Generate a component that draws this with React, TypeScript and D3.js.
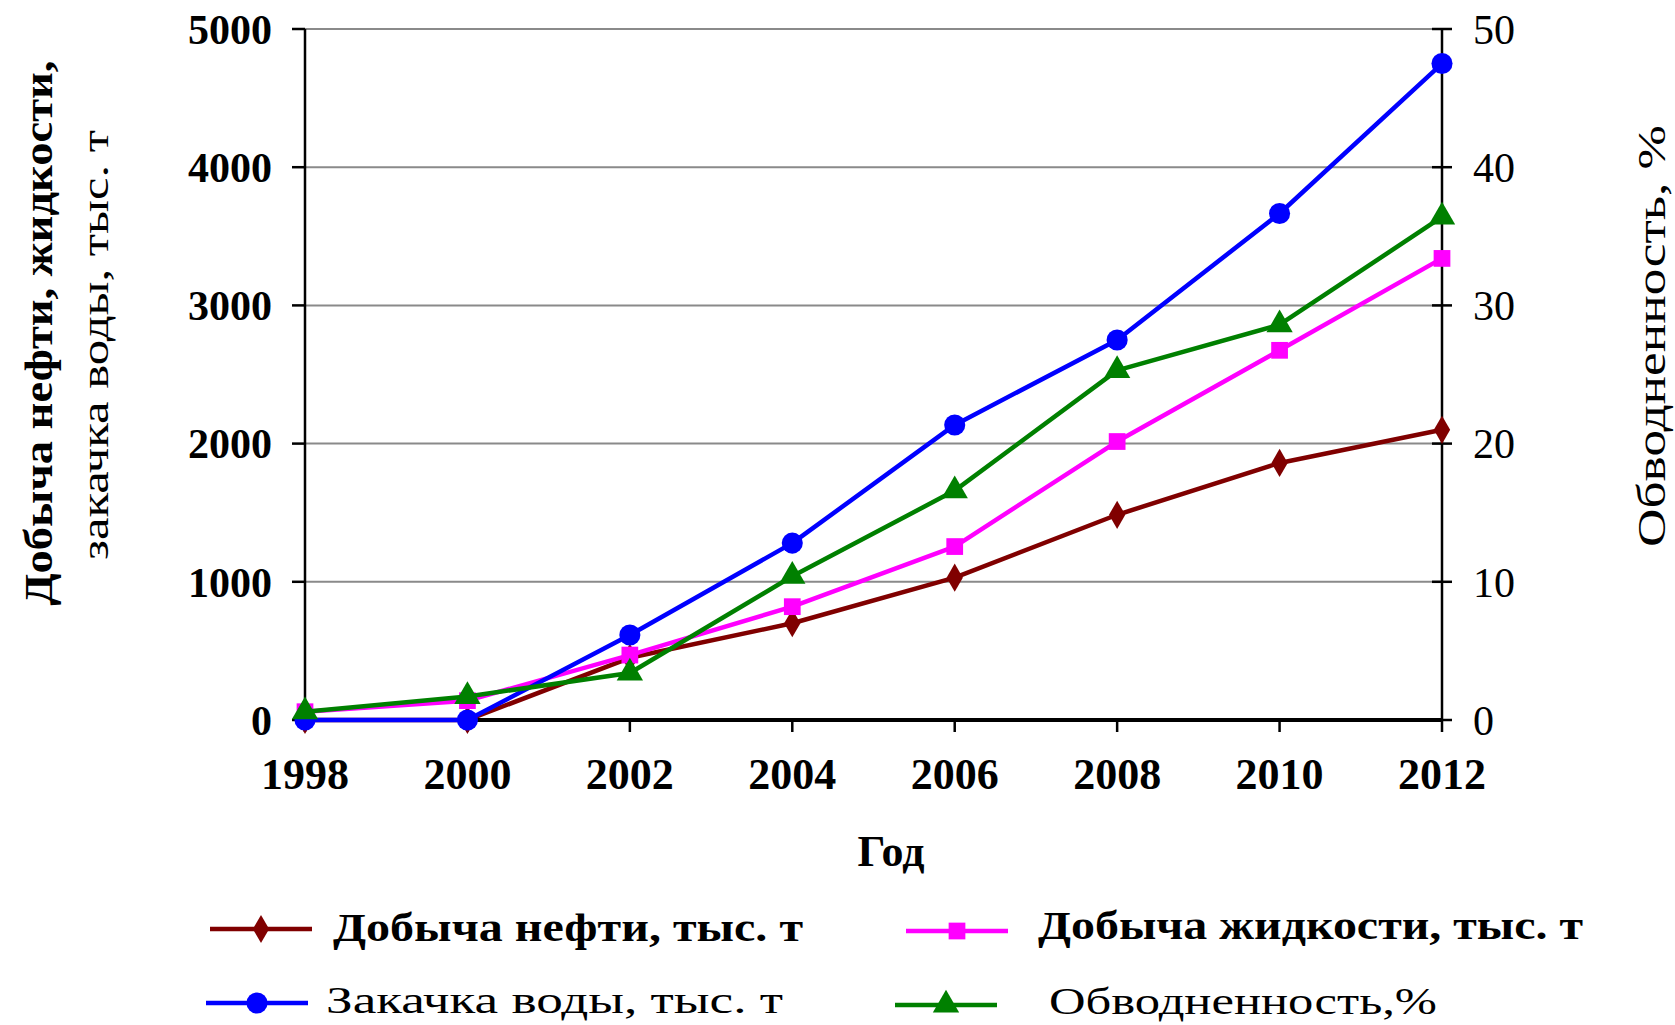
import React from "react";
import * as d3 from "d3";

const years = [1998, 2000, 2002, 2004, 2006, 2008, 2010, 2012];
const oil = [0, 0, 450, 700, 1030, 1485, 1860, 2100];
const liquid = [60, 140, 470, 820, 1255, 2015, 2675, 3340];
const injection = [0, 0, 615, 1280, 2135, 2750, 3665, 4750];
const waterCut = [0.6, 1.7, 3.4, 10.4, 16.6, 25.3, 28.6, 36.4];
const leftTicks = [0, 1000, 2000, 3000, 4000, 5000];
const rightTicks = [0, 10, 20, 30, 40, 50];

const seriesNames = [
  "Добыча нефти, тыс. т",
  "Закачка воды, тыс. т",
  "Добыча жидкости, тыс. т",
  "Обводненность,%",
];
const leftTitle = ["Добыча нефти, жидкости,", "закачка воды, тыс. т"];
const rightTitle = "Обводненность, %";
const xTitle = "Год";

const FONT = "'Liberation Serif', 'Times New Roman', serif";

export default function App() {
  const x = d3.scaleLinear().domain([1998, 2012]).range([305, 1442]);
  const yL = d3.scaleLinear().domain([0, 5000]).range([720, 29]);
  const yR = d3.scaleLinear().domain([0, 50]).range([720, 29]);

  const lineL = d3.line<number>().x((_, i) => x(years[i])).y((d) => yL(d));
  const lineR = d3.line<number>().x((_, i) => x(years[i])).y((d) => yR(d));

  const sym = (type: any, size: number) => d3.symbol().type(type).size(size)() || "";

  const series = [
    { data: oil, color: "#800000", path: lineL(oil), y: yL, marker: sym(d3.symbolDiamond, 230) },
    { data: liquid, color: "#FF00FF", path: lineL(liquid), y: yL, marker: sym(d3.symbolSquare, 280) },
    { data: injection, color: "#0000FF", path: lineL(injection), y: yL, marker: sym(d3.symbolCircle, 350) },
    { data: waterCut, color: "#008000", path: lineR(waterCut), y: yR, marker: sym(d3.symbolTriangle, 300) },
  ];

  const legend = [
    { s: series[0], lx: 210, ly: 929, text: seriesNames[0], tx: 333, tb: 941, tl: 470, w: 700, fs: 40 },
    { s: series[2], lx: 206, ly: 1003, text: seriesNames[1], tx: 326, tb: 1013, tl: 457, w: 400, fs: 38 },
    { s: series[1], lx: 906, ly: 931, text: seriesNames[2], tx: 1038, tb: 939, tl: 545, w: 700, fs: 40 },
    { s: series[3], lx: 895, ly: 1005, text: seriesNames[3], tx: 1049, tb: 1014, tl: 388, w: 400, fs: 38 },
  ];

  return (
    <svg
      width={1675}
      height={1025}
      style={{ position: "absolute", left: 0, top: 0, background: "#fff" }}
      fontFamily={FONT}
    >
      <rect x={0} y={0} width={1675} height={1025} fill="#fff" />
      {/* gridlines */}
      {leftTicks.filter((t) => t > 0).map((t) => (
        <line key={"g" + t} x1={x(1998)} x2={x(2012)} y1={yL(t)} y2={yL(t)} stroke="#8a8a8a" strokeWidth={2} />
      ))}
      {/* left axis */}
      <line x1={x(1998)} x2={x(1998)} y1={yL(5000)} y2={yL(0)} stroke="#000" strokeWidth={2.5} />
      {leftTicks.map((t) => (
        <g key={"lt" + t}>
          <line x1={x(1998) - 13} x2={x(1998)} y1={yL(t)} y2={yL(t)} stroke="#000" strokeWidth={2.5} />
          <text x={272} y={yL(t)} dy="0.35em" textAnchor="end" fontSize={42} fontWeight={700}>
            {t}
          </text>
        </g>
      ))}
      {/* right axis */}
      <line x1={x(2012)} x2={x(2012)} y1={yR(50)} y2={yR(0)} stroke="#000" strokeWidth={2.5} />
      {rightTicks.map((t) => (
        <g key={"rt" + t}>
          <line x1={x(2012) - 10} x2={x(2012) + 10} y1={yR(t)} y2={yR(t)} stroke="#000" strokeWidth={2.5} />
          <text x={1473} y={yR(t)} dy="0.35em" textAnchor="start" fontSize={42} fontWeight={400}>
            {t}
          </text>
        </g>
      ))}
      {/* bottom axis */}
      <line x1={x(1998) - 1} x2={x(2012) + 1} y1={yL(0)} y2={yL(0)} stroke="#000" strokeWidth={4} />
      {years.map((yr) => (
        <g key={"xt" + yr}>
          <line x1={x(yr)} x2={x(yr)} y1={yL(0)} y2={yL(0) + 12} stroke="#000" strokeWidth={2.5} />
          <text x={x(yr)} y={789} textAnchor="middle" fontSize={44} fontWeight={700}>
            {yr}
          </text>
        </g>
      ))}
      <text x={891} y={866} textAnchor="middle" fontSize={44} fontWeight={700}>
        {xTitle}
      </text>
      {/* axis titles */}
      <text
        transform="translate(52,333) rotate(-90)"
        textAnchor="middle"
        fontSize={40}
        fontWeight={700}
        textLength={545}
        lengthAdjust="spacingAndGlyphs"
      >
        {leftTitle[0]}
      </text>
      <text
        transform="translate(108,345) rotate(-90)"
        textAnchor="middle"
        fontSize={38}
        fontWeight={400}
        textLength={430}
        lengthAdjust="spacingAndGlyphs"
      >
        {leftTitle[1]}
      </text>
      <text
        transform="translate(1665,336) rotate(-90)"
        textAnchor="middle"
        fontSize={40}
        fontWeight={400}
        textLength={422}
        lengthAdjust="spacingAndGlyphs"
      >
        {rightTitle}
      </text>
      {/* series */}
      {series.map((s, si) => (
        <g key={"s" + si}>
          <path d={s.path || ""} fill="none" stroke={s.color} strokeWidth={4.5} strokeLinejoin="round" />
          {s.data.map((d, i) => (
            <path key={i} d={s.marker} transform={`translate(${x(years[i])},${s.y(d)})`} fill={s.color} />
          ))}
        </g>
      ))}
      {/* legend */}
      {legend.map((l, i) => (
        <g key={"lg" + i}>
          <line x1={l.lx} x2={l.lx + 102} y1={l.ly} y2={l.ly} stroke={l.s.color} strokeWidth={4.5} />
          <path d={l.s.marker} transform={`translate(${l.lx + 51},${l.ly})`} fill={l.s.color} />
          <text
            x={l.tx}
            y={l.tb}
            fontSize={l.fs}
            fontWeight={l.w}
            textLength={l.tl}
            lengthAdjust="spacingAndGlyphs"
          >
            {l.text}
          </text>
        </g>
      ))}
    </svg>
  );
}
